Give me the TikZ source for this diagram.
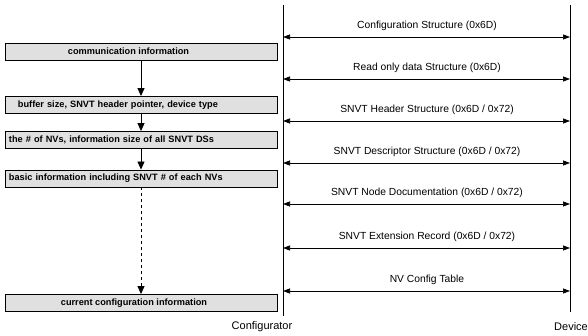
\documentclass[tikz,border=0pt]{standalone}
\usepackage{fontspec}
\setmainfont{Liberation Sans}
\usetikzlibrary{arrows.meta}
\begin{document}
\begin{tikzpicture}[x=1pt,y=-1pt,
  infobox/.style={draw=black,line width=0.9pt,fill=black!12,minimum width=272pt,minimum height=17pt,inner sep=0pt,font=\bfseries\fontsize{9.2}{10}\selectfont},
  flow/.style={-{Triangle[length=8pt,width=7pt]},line width=0.8pt},
  msg/.style={{Triangle[length=7pt,width=5pt]}-{Triangle[length=7pt,width=5pt]},line width=0.7pt},
  msglabel/.style={font=\fontsize{10.3}{12}\selectfont,inner sep=0pt},
  lifeline/.style={line width=0.6pt},
  actor/.style={font=\fontsize{11}{13}\selectfont,inner sep=0pt}]
\useasboundingbox (0,0) rectangle (588,336);
% left boxes
\node[infobox] (b1) at (141,51.5) {\hspace*{-25pt}communication information};
\node[infobox,text width=264pt,align=left] (b2) at (141,105) {\hspace*{9pt}buffer size, SNVT header pointer, device type};
\node[infobox,text width=264pt,align=left] (b3) at (141,140) {the \# of NVs, information size of all SNVT DSs};
\node[infobox,text width=264pt,align=left] (b4) at (141,178.5) {basic information including SNVT \# of each NVs};
\node[infobox] (b5) at (141,303) {\hspace*{-14pt}current configuration information};
\draw[flow] (b1) -- (b2);
\draw[flow] (b2) -- (b3);
\draw[flow] (b3) -- (b4);
\draw[flow,dashed] (b4) -- (b5);
% lifelines
\coordinate (ct) at (283,5);
\coordinate (cb) at (283,316);
\coordinate (dt) at (570,5);
\coordinate (db) at (570,312);
\draw[lifeline] (ct) -- (cb);
\draw[lifeline] (dt) -- (db);
\node[actor] (conf) at (262,327) {Configurator};
\node[actor] (dev) at (571,327) {Device};
% messages
\foreach \y/\t/\n in {37/{Configuration Structure (0x6D)}/m1,
  79/{Read only data Structure (0x6D)}/m2,
  121/{SNVT Header Structure (0x6D / 0x72)}/m3,
  163/{SNVT Descriptor Structure (0x6D / 0x72)}/m4,
  204/{SNVT Node Documentation (0x6D / 0x72)}/m5,
  248/{SNVT Extension Record (0x6D / 0x72)}/m6,
  291/{NV Config Table}/m7}{
  \coordinate (\n l) at (283,\y);
  \coordinate (\n r) at (570,\y);
  \draw[msg] (\n l) -- (\n r);
  \node[msglabel] (\n t) at (427,\y-11.5) {\t};
}
\end{tikzpicture}
\end{document}
